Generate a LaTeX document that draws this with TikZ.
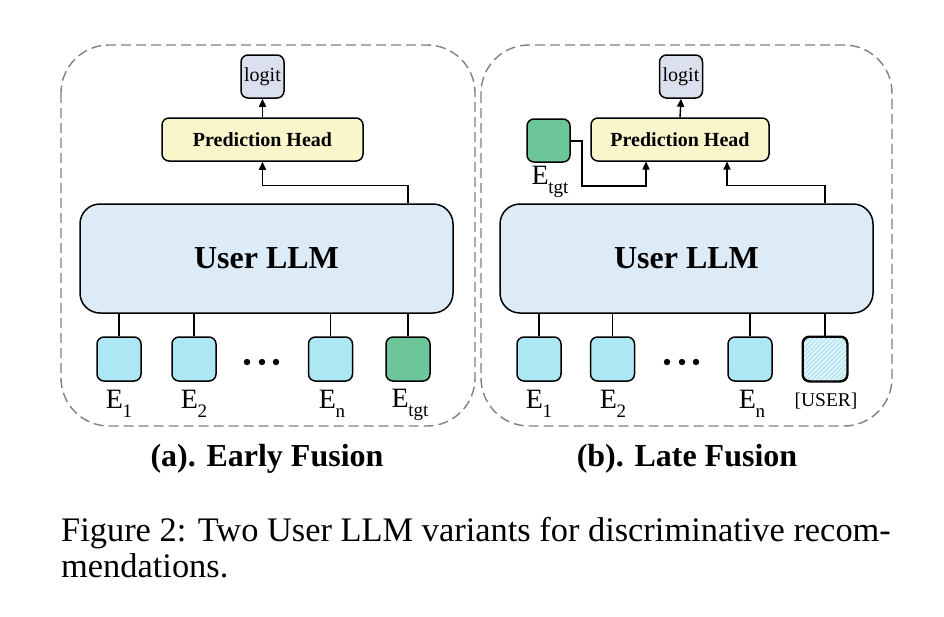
\documentclass[tikz,border=0pt]{standalone}
\usepackage{fontspec}
\setmainfont{Liberation Serif}
\usetikzlibrary{arrows.meta}

\definecolor{logitfill}{HTML}{DAE0EE}
\definecolor{headfill}{HTML}{FAF6CB}
\definecolor{llmfill}{HTML}{DCEBF6}
\definecolor{embfill}{HTML}{ADE7F3}
\definecolor{tgtfill}{HTML}{6DC59A}
\definecolor{hatch}{HTML}{B3E4F3}
\definecolor{hatchbg}{HTML}{EEF9FC}
\definecolor{frame}{HTML}{808080}

\newcommand{\Esub}[1]{E\kern-0.5pt\raisebox{-0.3em}{\fontsize{19}{19}\selectfont #1}}

\tikzset{
  panel/.style={draw=frame, line width=1.4pt, dash pattern=on 10pt off 5pt, rounded corners=48pt},
  box/.style={draw=black, line width=1.5pt, rounded corners=7pt, inner sep=0pt},
  logitbox/.style={box, fill=logitfill, minimum width=43pt, minimum height=43pt, font=\fontsize{20}{20}\selectfont},
  headbox/.style={box, fill=headfill, minimum height=43pt, font=\fontsize{20}{20}\selectfont\bfseries},
  llmbox/.style={box, fill=llmfill, rounded corners=20pt, minimum width=373pt, minimum height=109pt, font=\fontsize{32}{32}\selectfont\bfseries},
  emb/.style={box, fill=embfill, minimum width=44pt, minimum height=44pt},
  tgt/.style={box, fill=tgtfill, minimum width=44pt, minimum height=44pt},
  usertok/.style={box, fill=hatchbg, minimum width=44pt, minimum height=44pt,
    path picture={
      \foreach \k in {-64,-59.5,...,64}
        \draw[hatch, line width=1.7pt]
          ([xshift=\k pt]path picture bounding box.center) ++(-40pt,-40pt) -- ++(80pt,80pt);
    }},
  outline/.style={draw=black, line width=1.5pt, rounded corners=7pt},
  elabel/.style={inner sep=0pt, font=\fontsize{28}{28}\selectfont},
  wire/.style={line width=1.4pt},
  arr/.style={line width=1.4pt, -{Triangle[length=8pt,width=7pt]}},
  sub/.style={inner sep=0pt, font=\fontsize{32}{32}\selectfont\bfseries},
  figcap/.style={inner sep=0pt, anchor=base west, font=\fontsize{34.4}{34.4}\selectfont},
}

\begin{document}
\begin{tikzpicture}[x=1pt,y=-1pt]
\useasboundingbox (0,0) rectangle (944,616);

% ---------- (a) Early Fusion ----------
\draw[panel] (61,45) rectangle (475,426);
\node[logitbox] (logita) at (262.5,76.5) {logit};
\node[headbox, minimum width=201pt] (heada) at (262.5,139.5) {Prediction Head};
\node[llmbox] (llma) at (266.5,258.5) {User LLM};
\node[emb] (e1a) at (119,359) {};
\node[emb] (e2a) at (194,359) {};
\node[emb] (ena) at (330.5,359) {};
\node[tgt] (etgta) at (408,359) {};
\foreach \x in {247,262,276} \fill (\x,362) circle (3.2pt);
\node[elabel] (l1a) at (119,404) {\Esub{1}};
\node[elabel] (l2a) at (194,404) {\Esub{2}};
\node[elabel] (lna) at (332,404) {\Esub{n}};
\node[elabel] (lta) at (410,405) {\Esub{tgt}};
\foreach \n in {e1a,e2a,ena,etgta} \draw[wire] (\n.north) -- (\n.north |- llma.south);
\draw[arr] (heada.north) -- (logita.south);
\draw[arr] (etgta.north |- llma.north) -- ++(0,-18) -| (heada.south);
\node[sub] (capa) at (267,459) {(a). Early Fusion};

% ---------- (b) Late Fusion ----------
\draw[panel] (481,45) rectangle (892,426);
\node[logitbox] (logitb) at (681,76.5) {logit};
\node[headbox, minimum width=178pt] (headb) at (680,139.5) {Prediction Head};
\node[llmbox] (llmb) at (686.5,258.5) {User LLM};
\node[tgt, minimum width=43pt, minimum height=43pt] (etgtb) at (548.5,140.5) {};
\node[elabel] (ltb) at (550,182) {\Esub{tgt}};
\node[emb] (e1b) at (539,359) {};
\node[emb] (e2b) at (612.5,359) {};
\node[emb] (enb) at (750,359) {};
\node[usertok] (userb) at (825,359) {};
\draw[outline] (userb.south west) rectangle (userb.north east);
\foreach \x in {667,682,696} \fill (\x,362) circle (3.2pt);
\node[elabel] (l1b) at (539,404) {\Esub{1}};
\node[elabel] (l2b) at (613,404) {\Esub{2}};
\node[elabel] (lnb) at (752,404) {\Esub{n}};
\node[inner sep=0pt, font=\fontsize{19.5}{19.5}\selectfont] (lub) at (826,401) {[USER]};
\foreach \n in {e1b,e2b,enb,userb} \draw[wire] (\n.north) -- (\n.north |- llmb.south);
\draw[arr] (headb.north) -- (logitb.south);
\coordinate (hbl) at (646,161.5);
\coordinate (hbr) at (727,161.5);
\coordinate (kb) at (582,186);
\draw[arr] (etgtb.east |- 0,141) -| (kb) -| (hbl);
\draw[arr] (userb.north |- llmb.north) -- ++(0,-18) -| (hbr);
\node[sub] (capb) at (687,459) {(b). Late Fusion};

% ---------- caption ----------
\node[figcap] (fig1) at (61,541) {Figure 2: Two User LLM variants for discriminative recom-};
\node[figcap] (fig2) at (61,577) {mendations.};
\end{tikzpicture}
\end{document}
